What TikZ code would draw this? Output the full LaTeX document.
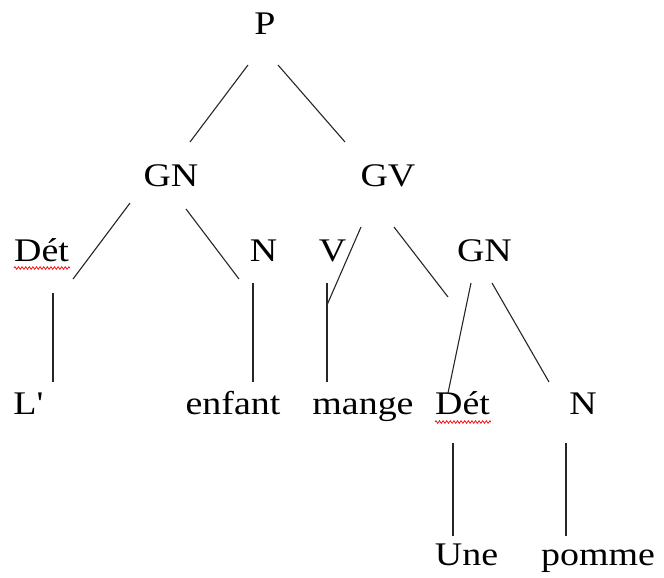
\documentclass[tikz,border=0pt]{standalone}
\usepackage{fontspec}
\setmainfont{Liberation Serif}[Ligatures=TeXOff, FakeStretch=1.15]
\usetikzlibrary{decorations.pathmorphing}

\tikzset{
	cat/.style={inner sep=0pt, anchor=base, font=\fontsize{33}{40}\selectfont},
	branch/.style={draw=black!85, line width=1.1pt},
	squiggle/.style={draw=red, line width=0.7pt, decorate,
		decoration={zigzag, segment length=3.6pt, amplitude=1.3pt}}
}

\begin{document}
\begin{tikzpicture}[x=1pt, y=-1pt]
	\useasboundingbox (0,0) rectangle (664,578);

	\begin{scope}
		\node[cat] (P) at (265,35) {P};
		\node[cat] (GNa) at (171,186) {GN};
		\node[cat] (GV) at (388,186) {GV};
		\node[cat] (Deta) at (41.5,261) {Dét};
		\node[cat] (Na) at (263.5,261) {N};
		\node[cat] (V) at (332.5,261) {V};
		\node[cat] (GNb) at (484.5,261) {GN};
		\node[cat] (L) at (28.5,414) {L'};
		\node[cat] (enfant) at (233,414) {enfant};
		\node[cat] (mange) at (363,414) {mange};
		\node[cat] (Detb) at (462.5,414) {Dét};
		\node[cat] (Nb) at (583,414) {N};
		\node[cat] (Une) at (466.5,565) {Une};
		\node[cat] (pomme) at (598,565) {pomme};
	\end{scope}

	% ends of the branches
	\begin{scope}
		\coordinate (P-sw) at (248,65);
		\coordinate (P-se) at (278,65);
		\coordinate (GNa-ne) at (190,142);
		\coordinate (GV-nw) at (345,142);
		\coordinate (GNa-sw) at (130,203);
		\coordinate (GNa-se) at (186,209);
		\coordinate (Deta-ne) at (73,279);
		\coordinate (Na-nw) at (239,279);
		\coordinate (Deta-s) at (53,293);
		\coordinate (L-n) at (53,382);
		\coordinate (Na-s) at (253,283);
		\coordinate (enfant-n) at (253,382);
		\coordinate (GV-sw) at (361,227);
		\coordinate (GV-se) at (394,227);
		\coordinate (V-low) at (327,305);
		\coordinate (GNb-nw) at (448,297);
		\coordinate (V-s) at (327,283);
		\coordinate (mange-n) at (327,382);
		\coordinate (GNb-sw) at (471,283);
		\coordinate (GNb-se) at (492,283);
		\coordinate (Detb-n) at (448,393);
		\coordinate (Nb-nw) at (549,382);
		\coordinate (Detb-s) at (453,443);
		\coordinate (Une-n) at (453,536);
		\coordinate (Nb-s) at (566,443);
		\coordinate (pomme-n) at (566,536);
	\end{scope}

	\begin{scope}
		\draw[branch] (P-sw) -- (GNa-ne);
		\draw[branch] (P-se) -- (GV-nw);
		\draw[branch] (GNa-sw) -- (Deta-ne);
		\draw[branch] (GNa-se) -- (Na-nw);
		\draw[branch] (Deta-s) -- (L-n);
		\draw[branch] (Na-s) -- (enfant-n);
		\draw[branch] (GV-sw) -- (V-low);
		\draw[branch] (GV-se) -- (GNb-nw);
		\draw[branch] (V-s) -- (mange-n);
		\draw[branch] (GNb-sw) -- (Detb-n);
		\draw[branch] (GNb-se) -- (Nb-nw);
		\draw[branch] (Detb-s) -- (Une-n);
		\draw[branch] (Nb-s) -- (pomme-n);
	\end{scope}

	% spell-check marks
	\begin{scope}
		\coordinate (Deta-u1) at (14,268);
		\coordinate (Deta-u2) at (70,268);
		\coordinate (Detb-u1) at (435,422);
		\coordinate (Detb-u2) at (491,422);
		\draw[squiggle] (Deta-u1) -- (Deta-u2);
		\draw[squiggle] (Detb-u1) -- (Detb-u2);
	\end{scope}
\end{tikzpicture}
\end{document}
